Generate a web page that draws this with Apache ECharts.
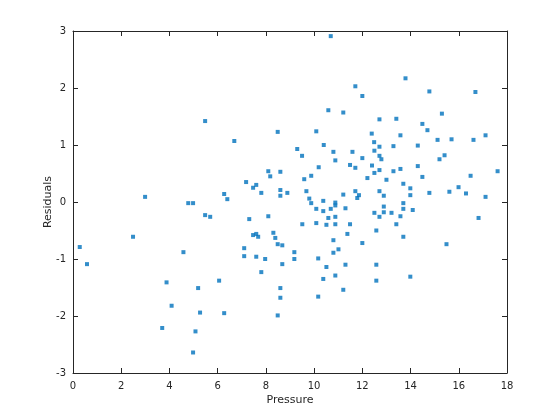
<!DOCTYPE html>
<html><head><meta charset="utf-8">
<script src="https://cdn.jsdelivr.net/npm/echarts@6/dist/echarts.min.js"></script>
<style>html,body{margin:0;padding:0;background:#fff}#c{width:560px;height:420px}</style>
</head><body><div id="c"></div>
<script>
const pressure = [5.48,10.69,11.71,10.59,11.21,8.49,10.09,6.69,10.40,
12.00,13.79,14.78,16.69,12.71,13.41,15.30,14.49,14.70,12.39,13.58,15.12,15.70,16.61,17.11,12.49,12.71,13.29,14.30,
0.28,2.99,2.49,4.78,4.98,5.48,5.69,4.58,
9.30,10.80,11.59,9.50,10.88,11.49,11.71,10.19,8.10,8.60,8.18,9.88,9.59,7.18,7.60,7.47,7.81,6.27,6.40,8.60,8.89,8.60,9.68,9.80,9.88,10.38,10.09,10.38,10.69,10.88,10.88,11.30,11.21,11.71,11.86,11.79,7.31,8.10,10.59,10.88,9.51,10.09,10.51,10.88,11.49,11.38,8.31,7.60,7.47,7.68,8.39,10.80,8.49,8.68,7.10,11.01,9.18,10.80,7.10,7.60,7.97,9.18,10.17,
12.50,12.71,12.79,12.00,15.41,15.20,12.40,13.58,14.30,12.71,13.29,12.50,17.61,12.21,13.00,14.49,16.49,13.70,13.99,12.71,12.89,13.99,14.78,15.61,15.99,16.30,17.11,13.70,12.89,13.70,14.09,12.89,13.21,12.50,12.71,13.58,16.82,13.41,12.58,13.70,12.00,15.49,
0.58,3.88,5.19,6.06,4.09,5.27,3.70,5.08,4.98,
8.68,11.30,10.51,7.81,10.88,10.38,8.60,11.21,8.60,10.17,6.27,8.49,
12.58,12.58,13.99];
const residuals = [1.42,2.91,2.03,1.61,1.57,1.23,1.24,1.07,1.00,
1.86,2.17,1.94,1.93,1.45,1.46,1.55,1.37,1.26,1.20,1.17,1.09,1.10,1.09,1.17,1.05,0.97,0.98,0.99,
-0.79,0.09,-0.61,-0.02,-0.02,-0.23,-0.26,-0.88,
0.93,0.88,0.88,0.81,0.73,0.65,0.60,0.61,0.54,0.53,0.45,0.46,0.40,0.35,0.30,0.25,0.16,0.14,0.05,0.21,0.16,0.11,0.19,0.06,-0.02,0.02,-0.12,-0.16,-0.12,-0.01,-0.06,-0.11,0.13,0.19,0.12,0.07,-0.30,-0.25,-0.28,-0.26,-0.39,-0.37,-0.40,-0.39,-0.39,-0.56,-0.54,-0.56,-0.58,-0.61,-0.63,-0.67,-0.74,-0.76,-0.81,-0.83,-0.88,-0.89,-0.95,-0.96,-1.00,-1.00,-0.99,
0.90,0.81,0.75,0.77,0.82,0.75,0.64,0.58,0.63,0.56,0.54,0.51,0.54,0.42,0.39,0.44,0.46,0.32,0.24,0.19,0.11,0.12,0.16,0.18,0.26,0.15,0.09,-0.02,-0.08,-0.12,-0.14,-0.18,-0.19,-0.19,-0.26,-0.25,-0.28,-0.39,-0.50,-0.61,-0.72,-0.74,
-1.09,-1.41,-1.51,-1.38,-1.82,-1.94,-2.21,-2.27,-2.64,
-1.09,-1.10,-1.14,-1.23,-1.29,-1.35,-1.51,-1.54,-1.68,-1.66,-1.95,-1.99,
-1.10,-1.38,-1.31];
const xTicks = [0,2,4,6,8,10,12,14,16,18];
const yTicks = [-3,-2,-1,0,1,2,3];
const xLabel = 'Pressure';
const yLabel = 'Residuals';

const axisColor = '#262626';
const font = 'DejaVu Sans, sans-serif';
const chart = echarts.init(document.getElementById('c'));
const pts = pressure.map((x,i)=>[x,residuals[i]]);
const baseX = {type:'value', min:xTicks[0], max:xTicks[xTicks.length-1], interval:2,
  axisLine:{show:true,onZero:false,lineStyle:{color:axisColor,width:1}},
  axisTick:{show:true,inside:true,length:5,lineStyle:{color:axisColor}},
  splitLine:{show:false}};
const baseY = {type:'value', min:yTicks[0], max:yTicks[yTicks.length-1], interval:1,
  axisLine:{show:true,onZero:false,lineStyle:{color:axisColor,width:1}},
  axisTick:{show:true,inside:true,length:5,lineStyle:{color:axisColor}},
  splitLine:{show:false}};
chart.setOption({
  animation:false,
  grid:{left:73,right:53,top:31,bottom:47,containLabel:false},
  xAxis:[
    Object.assign({}, baseX, {position:'bottom', name:xLabel, nameLocation:'middle', nameGap:22,
      nameMoveOverlap:false,
      nameTextStyle:{color:axisColor,fontSize:11,fontFamily:font},
      axisLabel:{color:axisColor,fontSize:10,fontFamily:font,margin:8}}),
    Object.assign({}, baseX, {position:'top', axisLabel:{show:false}})
  ],
  yAxis:[
    Object.assign({}, baseY, {position:'left', name:yLabel, nameLocation:'middle', nameGap:19,
      nameMoveOverlap:false,
      nameTextStyle:{color:axisColor,fontSize:11,fontFamily:font},
      axisLabel:{color:axisColor,fontSize:10,fontFamily:font,margin:7}}),
    Object.assign({}, baseY, {position:'right', axisLabel:{show:false}})
  ],
  series:[{type:'scatter', data:pts, symbol:'rect', symbolSize:4,
    itemStyle:{color:'#0072BD'}, xAxisIndex:0, yAxisIndex:0}]
});
</script></body></html>
